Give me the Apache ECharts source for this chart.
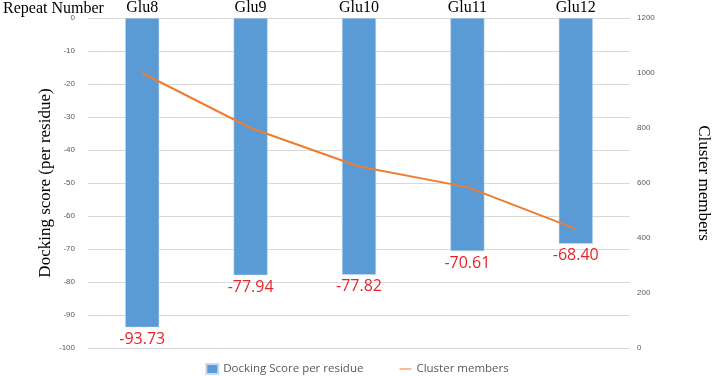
<!DOCTYPE html>
<html><head><meta charset="utf-8">
<script src="https://cdn.jsdelivr.net/npm/echarts@6/dist/echarts.min.js"></script>
<style>html,body{margin:0;padding:0;background:#fff}#c{width:714px;height:376px}</style>
</head><body><div id="c"></div>
<script>
const categories = ['Glu8','Glu9','Glu10','Glu11','Glu12'];
const dockingScores = [-93.73, -77.94, -77.82, -70.61, -68.40];
const clusterMembers = [1000, 800, 660, 585, 433];
const leftTicks = [0,-10,-20,-30,-40,-50,-60,-70,-80,-90,-100];
const rightTicks = [0,200,400,600,800,1000,1200];

const chart = echarts.init(document.getElementById('c'));
chart.setOption({
  animation:false,
  backgroundColor:'#fff',
  graphic:[{type:'text',left:3,top:1,style:{text:'Repeat Number',font:'16px "Liberation Serif", serif',fill:'#000'}}],
  legend:{bottom:1,padding:0,left:'center',itemGap:36,itemWidth:12,itemHeight:10,
    textStyle:{color:'#595959',fontSize:11.5,fontFamily:'"Open Sans", "Liberation Sans", sans-serif'},
    data:[{name:'Docking Score per residue',icon:'rect'},{name:'Cluster members',icon:'path://M0,4H24V6H0Z',itemStyle:{color:'#ed7d31'}}]},
  grid:{left:88,right:84,top:18,bottom:28,outerBoundsMode:'none',containLabel:false},
  xAxis:{type:'category',position:'top',data:categories,
    axisLine:{show:false},axisTick:{show:false},
    axisLabel:{color:'#000',fontSize:16,fontFamily:'"Liberation Serif", serif',margin:2}},
  yAxis:[
    {type:'value',min:-100,max:0,interval:10,
     name:'Docking score (per residue)',nameLocation:'middle',nameGap:34,nameRotate:90,nameMoveOverlap:false,
     nameTextStyle:{color:'#000',fontSize:17,fontFamily:'"Liberation Serif", serif'},
     axisLabel:{color:'#595959',fontSize:8,margin:13,formatter:v=>String(v)},
     axisLine:{show:false},axisTick:{show:false},
     splitLine:{lineStyle:{color:'#d9d9d9'}}},
    {type:'value',min:0,max:1200,interval:200,position:'right',
     name:'Cluster members',nameLocation:'middle',nameGap:65,nameRotate:-90,nameMoveOverlap:false,
     nameTextStyle:{color:'#000',fontSize:17,fontFamily:'"Liberation Serif", serif'},
     axisLabel:{color:'#595959',fontSize:8,margin:7,formatter:v=>String(v)},
     axisLine:{show:false},axisTick:{show:false},splitLine:{show:false}}
  ],
  series:[
    {name:'Docking Score per residue',type:'bar',data:dockingScores,barWidth:34,
     itemStyle:{color:'#5b9bd5',borderColor:'#c5dcf0',borderWidth:0.5},
     label:{show:true,position:'bottom',distance:4,color:'#e8242a',fontSize:16,
       fontFamily:'"Open Sans", "Liberation Sans", sans-serif',
       formatter:p=>p.value.toFixed(2)}},
    {name:'Cluster members',type:'line',yAxisIndex:1,data:clusterMembers,
     symbol:'none',smooth:false,lineStyle:{color:'#ed7d31',width:2},itemStyle:{color:'#ed7d31'}}
  ]
});
</script></body></html>
